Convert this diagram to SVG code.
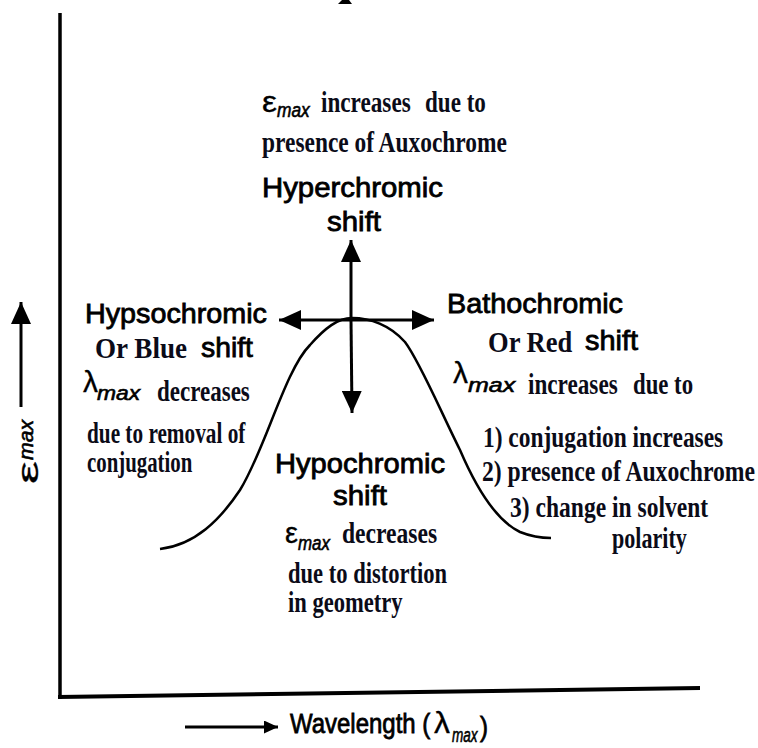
<svg xmlns="http://www.w3.org/2000/svg" width="758" height="748" viewBox="0 0 758 748">
<style>
.s{font-family:"Liberation Sans",Arial,sans-serif;font-size:28px;fill:#000;stroke:#000;stroke-width:0.8}
.t{font-family:"Liberation Serif","Times New Roman",serif;font-weight:bold;font-size:30px;fill:#0b0b18}
.g{font-family:"Liberation Sans",Arial,sans-serif;font-size:30px;fill:#000;stroke:#000;stroke-width:0.3}
.m{font-family:"Liberation Sans",Arial,sans-serif;font-style:italic;font-size:21px;fill:#000;stroke:#000;stroke-width:0.6}
.ax{stroke:#000;fill:none;stroke-linecap:butt}
.ar{stroke:#000;stroke-width:3;fill:none}
</style>
<defs>
<marker id="head" viewBox="0 0 22 20" refX="22" refY="10" markerWidth="22" markerHeight="20" markerUnits="userSpaceOnUse" orient="auto">
<path d="M0,0 L22,10 L0,20 Z" fill="#000"/>
</marker>
<marker id="small" viewBox="0 0 14 13" refX="14" refY="6.5" markerWidth="14" markerHeight="13" markerUnits="userSpaceOnUse" orient="auto">
<path d="M0,0 L14,6.5 L0,13 Z" fill="#000"/>
</marker>
</defs>
<rect width="758" height="748" fill="#fff"/>
<polygon points="342,0 349,0 352,4 338,4" fill="#000"/>
<g id="axes">
<line class="ax" x1="60" y1="13" x2="60" y2="699" stroke-width="3.5"/>
<line class="ax" x1="58" y1="697" x2="700" y2="688" stroke-width="4"/>
</g>
<path id="curve" d="M160,549 C195,545 220,520 240,490 C265,450 285,370 310,345 C325,328 338,318 352,318 C370,318 390,325 405,342 C420,362 440,410 460,450 C475,485 495,520 520,532 C530,536 540,538 551,538" fill="none" stroke="#000" stroke-width="2.5"/>
<g id="connectors">
<line class="ar" x1="351" y1="320" x2="351" y2="240" marker-end="url(#head)"/>
<line class="ar" x1="351" y1="320" x2="352" y2="413" marker-end="url(#head)"/>
<line class="ar" x1="351" y1="320" x2="279" y2="320" marker-end="url(#head)"/>
<line class="ar" x1="351" y1="320" x2="434" y2="320" marker-end="url(#head)"/>
<line class="ar" x1="21" y1="407" x2="21" y2="302" marker-end="url(#head)"/>
<line class="ar" x1="185" y1="727" x2="278" y2="727" marker-end="url(#small)"/>
</g>
<g id="hyperchromic">
<text class="g" x="262" y="112" textLength="15" lengthAdjust="spacingAndGlyphs">ε</text>
<text class="m" transform="translate(277,117) scale(0.8,1)" textLength="41" lengthAdjust="spacingAndGlyphs">max</text>
<text class="t" transform="translate(321,112) scale(0.78,1)" textLength="115" lengthAdjust="spacingAndGlyphs">increases</text>
<text class="t" transform="translate(425,112) scale(0.78,1)" textLength="78" lengthAdjust="spacingAndGlyphs">due to</text>
<text class="t" transform="translate(262,152) scale(0.78,1)" textLength="314" lengthAdjust="spacingAndGlyphs">presence of Auxochrome</text>
<text class="s" x="262" y="197" textLength="181" lengthAdjust="spacingAndGlyphs">Hyperchromic</text>
<text class="s" x="327" y="231" textLength="54" lengthAdjust="spacingAndGlyphs">shift</text>
</g>
<g id="hypsochromic">
<text class="s" x="85" y="323" textLength="182" lengthAdjust="spacingAndGlyphs">Hypsochromic</text>
<text class="t" transform="translate(95,358) scale(0.78,1)" textLength="118" lengthAdjust="spacingAndGlyphs">Or Blue</text>
<text class="s" x="201" y="357" textLength="52" lengthAdjust="spacingAndGlyphs">shift</text>
<text class="g" x="83" y="392" textLength="15" lengthAdjust="spacingAndGlyphs">λ</text>
<text class="m" transform="translate(97,400) scale(0.8,1)" textLength="54" lengthAdjust="spacingAndGlyphs">max</text>
<text class="t" transform="translate(157,401) scale(0.78,1)" textLength="119" lengthAdjust="spacingAndGlyphs">decreases</text>
<text class="t" transform="translate(87,443) scale(0.78,1)" textLength="203" lengthAdjust="spacingAndGlyphs">due to removal of</text>
<text class="t" transform="translate(87,472) scale(0.78,1)" textLength="135" lengthAdjust="spacingAndGlyphs">conjugation</text>
</g>
<g id="bathochromic">
<text class="s" x="447" y="313" textLength="176" lengthAdjust="spacingAndGlyphs">Bathochromic</text>
<text class="t" transform="translate(488,352) scale(0.78,1)" textLength="108" lengthAdjust="spacingAndGlyphs">Or Red</text>
<text class="s" x="585" y="350" textLength="53" lengthAdjust="spacingAndGlyphs">shift</text>
<text class="g" x="453" y="383" textLength="15" lengthAdjust="spacingAndGlyphs">λ</text>
<text class="m" transform="translate(468,392) scale(0.8,1)" textLength="59" lengthAdjust="spacingAndGlyphs">max</text>
<text class="t" transform="translate(528,394) scale(0.78,1)" textLength="115" lengthAdjust="spacingAndGlyphs">increases</text>
<text class="t" transform="translate(633,394) scale(0.78,1)" textLength="77" lengthAdjust="spacingAndGlyphs">due to</text>
<text class="t" transform="translate(483,447) scale(0.78,1)" textLength="308" lengthAdjust="spacingAndGlyphs">1) conjugation increases</text>
<text class="t" transform="translate(482,481) scale(0.78,1)" textLength="350" lengthAdjust="spacingAndGlyphs">2) presence of Auxochrome</text>
<text class="t" transform="translate(510,517) scale(0.78,1)" textLength="254" lengthAdjust="spacingAndGlyphs">3) change in solvent</text>
<text class="t" transform="translate(612,548) scale(0.78,1)" textLength="96" lengthAdjust="spacingAndGlyphs">polarity</text>
</g>
<g id="hypochromic">
<text class="s" x="275" y="473" textLength="170" lengthAdjust="spacingAndGlyphs">Hypochromic</text>
<text class="s" x="333" y="505" textLength="54" lengthAdjust="spacingAndGlyphs">shift</text>
<text class="g" x="285" y="543" textLength="13" lengthAdjust="spacingAndGlyphs">ε</text>
<text class="m" transform="translate(298,550) scale(0.8,1)" textLength="40" lengthAdjust="spacingAndGlyphs">max</text>
<text class="t" transform="translate(342,543) scale(0.78,1)" textLength="122" lengthAdjust="spacingAndGlyphs">decreases</text>
<text class="t" transform="translate(288,583) scale(0.78,1)" textLength="204" lengthAdjust="spacingAndGlyphs">due to distortion</text>
<text class="t" transform="translate(288,612) scale(0.78,1)" textLength="147" lengthAdjust="spacingAndGlyphs">in geometry</text>
</g>
<g id="x-label">
<text class="s" transform="translate(290,733) scale(0.85,1)" textLength="165" lengthAdjust="spacingAndGlyphs">Wavelength (</text>
<text class="g" x="434" y="733" font-size="28" textLength="16" lengthAdjust="spacingAndGlyphs">λ</text>
<text class="m" transform="translate(452,742) scale(0.8,1)" font-size="19" textLength="32" lengthAdjust="spacingAndGlyphs">max</text>
<text class="s" x="480" y="736" textLength="8" lengthAdjust="spacingAndGlyphs">)</text>
</g>
<g id="y-label" transform="translate(38,484) rotate(-90)">
<text class="g" x="0" y="0" font-size="34" textLength="23" lengthAdjust="spacingAndGlyphs">ε</text>
<text class="m" transform="translate(24,-5) scale(0.82,1)" font-size="26" textLength="49" lengthAdjust="spacingAndGlyphs">max</text>
</g>
</svg>
